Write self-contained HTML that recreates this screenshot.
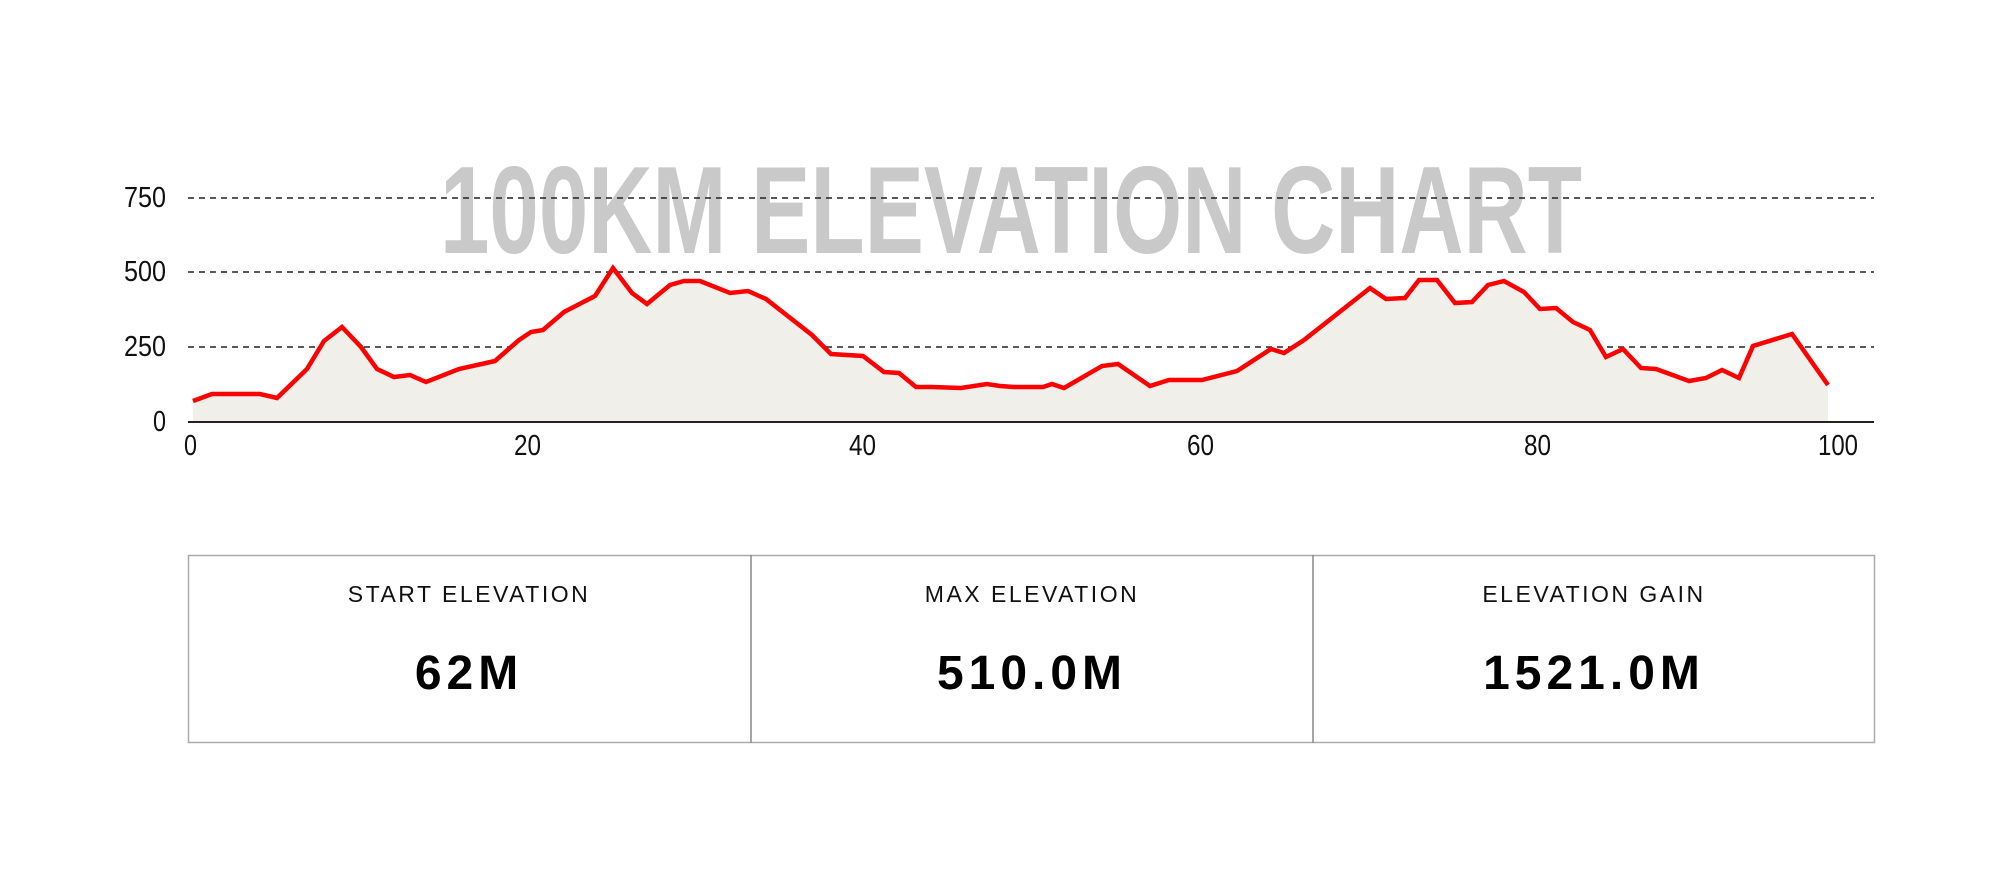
<!DOCTYPE html>
<html><head><meta charset="utf-8"><style>
html,body{margin:0;padding:0;background:#fff;}
svg{display:block}
</style></head><body>
<svg width="2000" height="875" viewBox="0 0 2000 875" xmlns="http://www.w3.org/2000/svg">
<rect width="2000" height="875" fill="#fff"/>
<text x="440" y="253" font-family="Liberation Sans Narrow, Liberation Sans, sans-serif" font-weight="bold" font-size="124" fill="#c9c9c9" textLength="1142" lengthAdjust="spacingAndGlyphs">100KM ELEVATION CHART</text>
<g stroke="#222" stroke-width="1.6" stroke-dasharray="6,5">
<line x1="188" y1="198" x2="1874" y2="198"/>
<line x1="188" y1="272" x2="1874" y2="272"/>
<line x1="188" y1="347" x2="1874" y2="347"/>
</g>
<polygon fill="#f0efea" points="193,421 193,401 212,394 260,394 277,398 307,369 324,341 342,327 361,347 377,369 394,377 410,375 426,382 459,369 495,361 519,340 531,332 543,330 564,312 595,296 613,268 632,293 647,304 670,285 684,281 700,281 730,293 748,291 766,299 812,335 831,354 863,356 884,372 899,373 916,387 932,387 961,388 987,384 1000,386 1014,387 1043,387 1052,384 1064,388 1102,366 1118,364 1150,386 1169,380 1202,380 1237,371 1271,349 1284,353 1304,340 1370,288 1386,299 1405,298 1419,280 1437,280 1455,303 1472,302 1488,285 1504,281 1524,292 1540,309 1556,308 1573,322 1590,330 1606,357 1623,349 1641,368 1656,369 1689,381 1706,378 1722,370 1739,378 1753,346 1792,334 1828,385 1828,421"/>
<polyline fill="none" stroke="#ff0000" stroke-width="4.5" stroke-linejoin="miter" points="193,401 212,394 260,394 277,398 307,369 324,341 342,327 361,347 377,369 394,377 410,375 426,382 459,369 495,361 519,340 531,332 543,330 564,312 595,296 613,268 632,293 647,304 670,285 684,281 700,281 730,293 748,291 766,299 812,335 831,354 863,356 884,372 899,373 916,387 932,387 961,388 987,384 1000,386 1014,387 1043,387 1052,384 1064,388 1102,366 1118,364 1150,386 1169,380 1202,380 1237,371 1271,349 1284,353 1304,340 1370,288 1386,299 1405,298 1419,280 1437,280 1455,303 1472,302 1488,285 1504,281 1524,292 1540,309 1556,308 1573,322 1590,330 1606,357 1623,349 1641,368 1656,369 1689,381 1706,378 1722,370 1739,378 1753,346 1792,334 1828,385"/>
<line x1="188" y1="422" x2="1874" y2="422" stroke="#222" stroke-width="2"/>
<g font-family="Liberation Sans, sans-serif" font-size="29" fill="#111" lengthAdjust="spacingAndGlyphs">
<text x="124" y="207" textLength="42" lengthAdjust="spacingAndGlyphs">750</text>
<text x="124" y="281" textLength="42" lengthAdjust="spacingAndGlyphs">500</text>
<text x="124" y="356" textLength="42" lengthAdjust="spacingAndGlyphs">250</text>
<text x="153" y="431" textLength="13" lengthAdjust="spacingAndGlyphs">0</text>
<text x="184" y="455" textLength="13" lengthAdjust="spacingAndGlyphs">0</text>
<text x="514" y="455" textLength="27" lengthAdjust="spacingAndGlyphs">20</text>
<text x="849" y="455" textLength="27" lengthAdjust="spacingAndGlyphs">40</text>
<text x="1187" y="455" textLength="27" lengthAdjust="spacingAndGlyphs">60</text>
<text x="1524" y="455" textLength="27" lengthAdjust="spacingAndGlyphs">80</text>
<text x="1818" y="455" textLength="40" lengthAdjust="spacingAndGlyphs">100</text>
</g>
<rect x="188.5" y="555.5" width="1686" height="187" fill="none" stroke="#aaa" stroke-width="1.5"/>
<line x1="751" y1="555" x2="751" y2="743" stroke="#888" stroke-width="1.5"/>
<line x1="1313" y1="555" x2="1313" y2="743" stroke="#888" stroke-width="1.5"/>
<g font-family="Liberation Sans, sans-serif" font-size="23" fill="#111" text-anchor="middle" letter-spacing="2.5">
<text x="469" y="602">START ELEVATION</text>
<text x="1032" y="602">MAX ELEVATION</text>
<text x="1594" y="602">ELEVATION GAIN</text>
</g>
<g font-family="Liberation Sans, sans-serif" font-size="48" font-weight="bold" fill="#000" text-anchor="middle" letter-spacing="5">
<text x="469" y="689">62M</text>
<text x="1032" y="689">510.0M</text>
<text x="1594" y="689">1521.0M</text>
</g>
</svg>
</body></html>
